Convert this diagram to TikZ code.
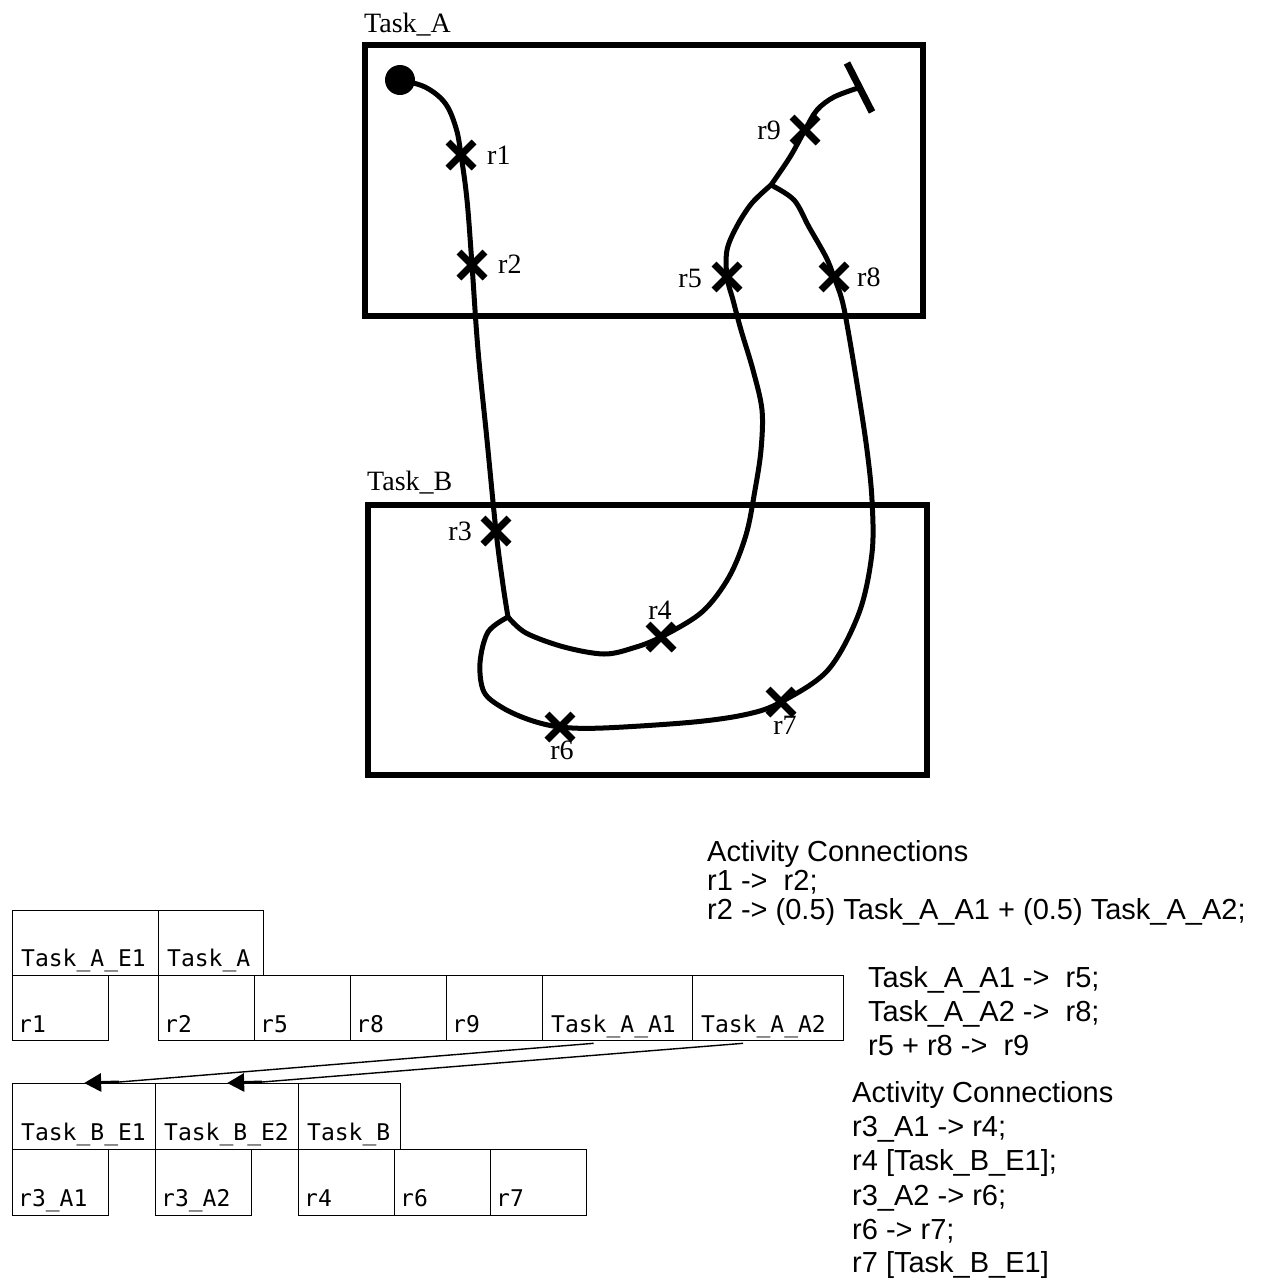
\documentclass[tikz,border=0pt]{standalone}
\usepackage{fontspec}
\usetikzlibrary{arrows.meta,calc}
\newfontfamily\serifA{Liberation Serif}
\newfontfamily\sansA{Liberation Sans}
\newfontfamily\monoA{DejaVu Sans Mono}
\begin{document}
\begin{tikzpicture}[x=1pt,y=-1pt,
  route/.style={line width=5pt, line join=round, line cap=round},
  taskbox/.style={draw, line width=6pt, anchor=north west, inner sep=0pt},
  rlabel/.style={font=\serifA\fontsize{28pt}{30pt}\selectfont, inner sep=0pt},
  cell/.style={draw, line width=1.3pt, anchor=north west, inner sep=0pt, minimum height=65pt},
  celltext/.style={font=\monoA\fontsize{23pt}{25pt}\selectfont, anchor=base west, inner sep=0pt},
  conn/.style={font=\sansA\fontsize{29pt}{34pt}\selectfont, anchor=base west, inner sep=0pt},
  linkline/.style={line width=1.4pt},
  linkhead/.style={line width=3pt, -{Triangle[length=17pt,width=18pt]}},
  xmark/.pic={\draw[line width=7pt] (-13,-13)--(13,13) (-13,13)--(13,-13);}
]
\useasboundingbox (0,0) rectangle (1267,1283);

% task boxes
\node[taskbox, minimum width=558pt, minimum height=271pt] (TaskA) at (362,42) {};
\node[taskbox, minimum width=559pt, minimum height=270pt] (TaskB) at (365,502) {};
\node[rlabel, anchor=base west] (lTA) at (364,32) {Task\_A};
\node[rlabel, anchor=base west] (lTB) at (367,490) {Task\_B};

% route points
\node[circle, fill=black, minimum size=30pt, inner sep=0pt] (start) at (400,80) {};
\coordinate (r1) at (461,155);
\coordinate (r2) at (472,265);
\coordinate (r3) at (496,531);
\coordinate (J1) at (508,617);
\coordinate (r4) at (661,637);
\coordinate (r5) at (727,277);
\coordinate (r6) at (560,727);
\coordinate (r7) at (781,702);
\coordinate (r8) at (834,277);
\coordinate (r9) at (805,130);
\coordinate (J2) at (771,185);
\coordinate (barA) at (847,63);
\coordinate (barB) at (872,112);
\coordinate (endbar) at ($(barA)!0.5!(barB)$);

% routes
\draw[route] plot[smooth, tension=0.6] coordinates {(start.center) (425,87) (445,103) (456,128) (r1) (467,200) (r2) (478,350) (487,440) (r3) (503,585) (J1)};
\draw[route] plot[smooth, tension=0.55] coordinates {(J1) (526,633) (564,647) (604,654) (633,648) (r4) (702,612) (729,577) (746,535) (755,490) (761,450) (762,410) (753,370) (741,330) (733,300) (r5) (727,250) (737,226) (752,203) (J2)};
\draw[route] plot[smooth, tension=0.55] coordinates {(J1) (488,632) (480,663) (484,692) (503,708) (530,720) (r6) (603,728) (694,722) (748,714) (r7) (828,670) (859,613) (872,553) (872,500) (867,450) (858,390) (848,330) (842,300) (r8) (826,257) (809,227) (794,200) (J2)};
\draw[route] plot[smooth, tension=0.55] coordinates {(J2) (790,157) (r9) (817,110) (834,97) (endbar)};
\draw[line width=7pt] (barA) -- (barB);

% crosses
\foreach \p in {r1,r2,r3,r4,r5,r6,r7,r8,r9} { \pic at (\p) {xmark}; }

% route labels
\node[rlabel, anchor=west] (lr1) at (487,155) {r1};
\node[rlabel, anchor=west] (lr2) at (498,264) {r2};
\node[rlabel, anchor=east] (lr5) at (702,278) {r5};
\node[rlabel, anchor=west] (lr8) at (857,277) {r8};
\node[rlabel, anchor=east] (lr9) at (781,130) {r9};
\node[rlabel, anchor=east] (lr3) at (472,531) {r3};
\node[rlabel] (lr4) at (660,610) {r4};
\node[rlabel] (lr6) at (562,750) {r6};
\node[rlabel] (lr7) at (785,725) {r7};

% table A
\node[cell, minimum width=146pt] (AE1) at (12,910) {};
\node[cell, minimum width=105pt] (TA) at (158,910) {};
\node[cell, minimum width=96pt] (cr1) at (12,975) {};
\node[cell, minimum width=96pt] (cr2) at (158,975) {};
\node[cell, minimum width=96pt] (cr5) at (254,975) {};
\node[cell, minimum width=96pt] (cr8) at (350,975) {};
\node[cell, minimum width=96pt] (cr9) at (446,975) {};
\node[cell, minimum width=150pt] (cA1) at (542,975) {};
\node[cell, minimum width=151pt] (cA2) at (692,975) {};
\node[celltext] (tAE1) at ($(AE1.south west)+(9,-10)$) {Task\_A\_E1};
\node[celltext] (tTA) at ($(TA.south west)+(9,-10)$) {Task\_A};
\node[celltext] (tr1) at ($(cr1.south west)+(6,-9)$) {r1};
\node[celltext] (tr2) at ($(cr2.south west)+(6,-9)$) {r2};
\node[celltext] (tr5) at ($(cr5.south west)+(6,-9)$) {r5};
\node[celltext] (tr8) at ($(cr8.south west)+(6,-9)$) {r8};
\node[celltext] (tr9) at ($(cr9.south west)+(6,-9)$) {r9};
\node[celltext] (tA1) at ($(cA1.south west)+(9,-9)$) {Task\_A\_A1};
\node[celltext] (tA2) at ($(cA2.south west)+(9,-9)$) {Task\_A\_A2};

% table B
\node[cell, minimum width=143pt, minimum height=66pt] (BE1) at (12,1083) {};
\node[cell, minimum width=143pt, minimum height=66pt] (BE2) at (155,1083) {};
\node[cell, minimum width=102pt, minimum height=66pt] (TB) at (298,1083) {};
\node[cell, minimum width=96pt, minimum height=66pt] (cr3A1) at (12,1149) {};
\node[cell, minimum width=96pt, minimum height=66pt] (cr3A2) at (155,1149) {};
\node[cell, minimum width=96pt, minimum height=66pt] (cr4) at (298,1149) {};
\node[cell, minimum width=96pt, minimum height=66pt] (cr6) at (394,1149) {};
\node[cell, minimum width=96pt, minimum height=66pt] (cr7) at (490,1149) {};
\node[celltext] (tBE1) at ($(BE1.south west)+(9,-10)$) {Task\_B\_E1};
\node[celltext] (tBE2) at ($(BE2.south west)+(9,-10)$) {Task\_B\_E2};
\node[celltext] (tTB) at ($(TB.south west)+(9,-10)$) {Task\_B};
\node[celltext] (tr3A1) at ($(cr3A1.south west)+(6,-10)$) {r3\_A1};
\node[celltext] (tr3A2) at ($(cr3A2.south west)+(6,-10)$) {r3\_A2};
\node[celltext] (tr4) at ($(cr4.south west)+(6,-10)$) {r4};
\node[celltext] (tr6) at ($(cr6.south west)+(6,-10)$) {r6};
\node[celltext] (tr7) at ($(cr7.south west)+(6,-10)$) {r7};

% links
\coordinate (s1) at ($(cA1.south)+(-24,2)$);
\coordinate (k1) at ($(BE1.north)+(35,-1)$);
\coordinate (s2) at ($(cA2.south)+(-25,2)$);
\coordinate (k2) at ($(BE2.north)+(35,-1)$);
\draw[linkline] (s1) -- (k1);
\draw[linkhead] (k1) -- (BE1.north);
\draw[linkline] (s2) -- (k2);
\draw[linkhead] (k2) -- (BE2.north);

% connection texts
\node[conn] (c1a) at (707,861) {Activity Connections};
\node[conn] (c1b) at (707,890) {r1 ->\ \ r2;};
\node[conn] (c1c) at (707,919) {r2 -> (0.5) Task\_A\_A1 + (0.5) Task\_A\_A2;};
\node[conn] (c2a) at (868,987) {Task\_A\_A1 ->\ \ r5;};
\node[conn] (c2b) at (868,1021) {Task\_A\_A2 ->\ \ r8;};
\node[conn] (c2c) at (868,1055) {r5 + r8 ->\ \ r9};
\node[conn] (c3a) at (852,1102) {Activity Connections};
\node[conn] (c3b) at (852,1136) {r3\_A1 -> r4;};
\node[conn] (c3c) at (852,1170) {r4 [Task\_B\_E1];};
\node[conn] (c3d) at (852,1205) {r3\_A2 -> r6;};
\node[conn] (c3e) at (852,1239) {r6 -> r7;};
\node[conn] (c3f) at (852,1272) {r7 [Task\_B\_E1]};
\end{tikzpicture}
\end{document}
